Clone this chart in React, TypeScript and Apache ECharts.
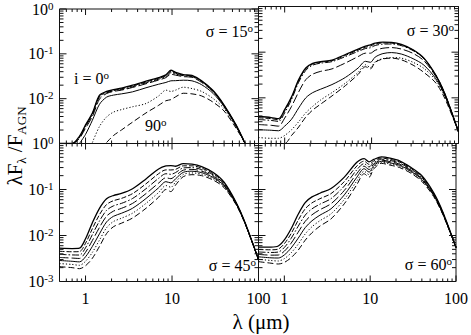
import React, { useEffect, useRef } from 'react';
import * as echarts from 'echarts';

// Wavelength grid (micron) shared by all curves
const WAVELENGTH_UM = [0.5, 0.7, 0.85, 1.0, 1.2, 1.45, 1.75, 2.1, 2.6, 3.5, 5, 7, 8.5, 9.7, 11, 13.5, 17, 22, 30, 40, 55, 70, 100];
const INCLINATION_DEG = [0, 15, 30, 45, 60, 75, 90];
const SIGMA_DEG = [15, 30, 45, 60];

// lambda F_lambda / F_AGN, one row per inclination (0..90 deg)
const SED_SIGMA_15 = [
  [0.001, 0.001, 0.00145, 0.0026, 0.0048, 0.012, 0.0145, 0.016, 0.0172, 0.020, 0.0245, 0.0295, 0.034, 0.043, 0.0385, 0.0345, 0.033, 0.025, 0.015, 0.0072, 0.0026, 0.001, null],
  [0.001, 0.001, 0.0014, 0.0025, 0.0046, 0.0115, 0.014, 0.0155, 0.0166, 0.0193, 0.0236, 0.0285, 0.0325, 0.0405, 0.037, 0.0335, 0.032, 0.0245, 0.0148, 0.0071, 0.0026, 0.001, null],
  [0.001, 0.001, 0.00135, 0.0024, 0.0044, 0.011, 0.0135, 0.015, 0.016, 0.0185, 0.0225, 0.0272, 0.031, 0.038, 0.0355, 0.0325, 0.031, 0.024, 0.0145, 0.007, 0.00255, 0.001, null],
  [0.001, 0.001, 0.0013, 0.0022, 0.004, 0.0098, 0.013, 0.0145, 0.0155, 0.0178, 0.0215, 0.026, 0.0295, 0.035, 0.0335, 0.031, 0.030, 0.023, 0.0142, 0.0069, 0.0025, 0.001, null],
  [null, null, 0.001, 0.0016, 0.0033, 0.0075, 0.0108, 0.012, 0.0128, 0.0142, 0.0175, 0.021, 0.023, 0.025, 0.0252, 0.0258, 0.025, 0.0205, 0.013, 0.0066, 0.00245, 0.001, null],
  [null, null, null, null, 0.00105, 0.0024, 0.0039, 0.005, 0.0057, 0.0066, 0.0078, 0.0115, 0.0155, 0.0145, 0.0155, 0.018, 0.0168, 0.0145, 0.010, 0.006, 0.00235, 0.001, null],
  [null, null, null, null, null, null, 0.00105, 0.0015, 0.002, 0.003, 0.0048, 0.0071, 0.009, 0.0095, 0.011, 0.0132, 0.0128, 0.0115, 0.0083, 0.0053, 0.0022, 0.001, null],
];
const SED_SIGMA_30 = [
  [0.0039, 0.0037, 0.0035, 0.0055, 0.0105, 0.025, 0.045, 0.057, 0.062, 0.067, 0.089, 0.117, 0.135, 0.145, 0.158, 0.166, 0.164, 0.148, 0.113, 0.074, 0.031, 0.012, 0.0018],
  [0.00365, 0.0035, 0.0033, 0.0052, 0.010, 0.024, 0.0435, 0.055, 0.060, 0.065, 0.085, 0.111, 0.128, 0.136, 0.15, 0.159, 0.158, 0.144, 0.111, 0.073, 0.031, 0.012, 0.0018],
  [0.00335, 0.0032, 0.00305, 0.0047, 0.0092, 0.022, 0.040, 0.052, 0.0575, 0.062, 0.080, 0.104, 0.12, 0.125, 0.14, 0.15, 0.151, 0.139, 0.108, 0.072, 0.0305, 0.012, 0.0018],
  [0.0026, 0.0025, 0.0024, 0.0036, 0.0065, 0.0135, 0.025, 0.033, 0.038, 0.043, 0.058, 0.080, 0.095, 0.095, 0.11, 0.122, 0.126, 0.117, 0.094, 0.065, 0.029, 0.0115, 0.0018],
  [0.002, 0.00195, 0.0019, 0.0024, 0.0034, 0.006, 0.010, 0.013, 0.0155, 0.0195, 0.028, 0.045, 0.063, 0.060, 0.078, 0.093, 0.098, 0.091, 0.072, 0.052, 0.026, 0.011, 0.0018],
  [0.00135, 0.0013, 0.0013, 0.0015, 0.002, 0.003, 0.0047, 0.0065, 0.009, 0.013, 0.021, 0.036, 0.053, 0.046, 0.062, 0.072, 0.076, 0.074, 0.060, 0.044, 0.024, 0.0105, 0.0018],
  [0.001, 0.001, 0.001, 0.001, 0.0015, 0.0023, 0.0038, 0.0054, 0.0073, 0.011, 0.0185, 0.0325, 0.048, 0.043, 0.060, 0.071, 0.074, 0.068, 0.052, 0.036, 0.021, 0.0095, 0.0018],
];
const SED_SIGMA_45 = [
  [0.0053, 0.0052, 0.0053, 0.0085, 0.019, 0.039, 0.063, 0.074, 0.082, 0.104, 0.17, 0.28, 0.325, 0.33, 0.32, 0.365, 0.357, 0.315, 0.235, 0.145, 0.053, 0.019, 0.003],
  [0.00454, 0.00443, 0.00447, 0.00678, 0.0141, 0.0284, 0.0471, 0.057, 0.064, 0.0814, 0.133, 0.221, 0.267, 0.266, 0.274, 0.327, 0.327, 0.292, 0.22, 0.139, 0.052, 0.0188, 0.003],
  [0.00389, 0.00378, 0.00376, 0.00541, 0.0105, 0.0207, 0.0352, 0.044, 0.0499, 0.0638, 0.104, 0.175, 0.22, 0.214, 0.234, 0.294, 0.299, 0.271, 0.207, 0.132, 0.051, 0.0186, 0.003],
  [0.00333, 0.00323, 0.00317, 0.00432, 0.0078, 0.015, 0.0263, 0.0338, 0.0389, 0.0499, 0.0814, 0.138, 0.18, 0.172, 0.2, 0.263, 0.274, 0.251, 0.194, 0.126, 0.05, 0.0184, 0.003],
  [0.00286, 0.00275, 0.00267, 0.00345, 0.0058, 0.0109, 0.0197, 0.0261, 0.0304, 0.0391, 0.0637, 0.109, 0.148, 0.139, 0.171, 0.236, 0.25, 0.233, 0.182, 0.121, 0.049, 0.0182, 0.003],
  [0.00245, 0.00235, 0.00225, 0.00275, 0.0043, 0.00796, 0.0147, 0.0201, 0.0237, 0.0306, 0.0499, 0.086, 0.122, 0.112, 0.146, 0.212, 0.229, 0.216, 0.171, 0.115, 0.048, 0.018, 0.003],
  [0.0021, 0.002, 0.0019, 0.0022, 0.0032, 0.0058, 0.011, 0.0155, 0.0185, 0.024, 0.039, 0.068, 0.1, 0.09, 0.125, 0.19, 0.21, 0.2, 0.16, 0.11, 0.047, 0.018, 0.003],
];
const SED_SIGMA_60 = [
  [0.0056, 0.0056, 0.0059, 0.008, 0.014, 0.029, 0.052, 0.069, 0.083, 0.105, 0.186, 0.39, 0.47, 0.40, 0.45, 0.51, 0.48, 0.42, 0.30, 0.20, 0.085, 0.033, 0.0055],
  [0.00496, 0.00489, 0.00508, 0.00664, 0.011, 0.0215, 0.038, 0.0512, 0.0631, 0.0815, 0.149, 0.324, 0.414, 0.352, 0.416, 0.484, 0.453, 0.397, 0.286, 0.191, 0.082, 0.032, 0.0055],
  [0.00439, 0.00428, 0.00437, 0.0055, 0.00866, 0.0159, 0.0277, 0.038, 0.048, 0.0633, 0.119, 0.269, 0.365, 0.309, 0.384, 0.458, 0.428, 0.375, 0.273, 0.182, 0.079, 0.0315, 0.0055],
  [0.00389, 0.00374, 0.00376, 0.00456, 0.0068, 0.0118, 0.0203, 0.0282, 0.0364, 0.0491, 0.0955, 0.223, 0.321, 0.272, 0.355, 0.435, 0.404, 0.355, 0.26, 0.173, 0.077, 0.031, 0.0055],
  [0.00344, 0.00327, 0.00324, 0.00378, 0.00535, 0.00873, 0.0148, 0.0209, 0.0277, 0.0381, 0.0764, 0.185, 0.283, 0.239, 0.328, 0.412, 0.381, 0.336, 0.248, 0.165, 0.075, 0.030, 0.0055],
  [0.00305, 0.00286, 0.00279, 0.00314, 0.0042, 0.00647, 0.0108, 0.0155, 0.021, 0.0296, 0.0612, 0.154, 0.249, 0.21, 0.303, 0.39, 0.36, 0.317, 0.236, 0.157, 0.072, 0.0295, 0.0055],
  [0.0027, 0.0025, 0.0024, 0.0026, 0.0033, 0.0048, 0.0079, 0.0115, 0.016, 0.023, 0.049, 0.128, 0.22, 0.185, 0.28, 0.37, 0.34, 0.30, 0.225, 0.15, 0.07, 0.029, 0.0055],
];

// Axis ticks and tick labels
const X_MAJOR_TICKS = [1, 10, 100];
const X_MINOR_TICKS = [0.6, 0.7, 0.8, 0.9, 2, 3, 4, 5, 6, 7, 8, 9, 20, 30, 40, 50, 60, 70, 80, 90];
const Y_MAJOR_TICKS = [0.001, 0.01, 0.1, 1];
const Y_MINOR_TICKS = [
  0.002, 0.003, 0.004, 0.005, 0.006, 0.007, 0.008, 0.009,
  0.02, 0.03, 0.04, 0.05, 0.06, 0.07, 0.08, 0.09,
  0.2, 0.3, 0.4, 0.5, 0.6, 0.7, 0.8, 0.9,
];
const X_TICK_LABELS = ['1', '10', '100']; // decades 0, 1, 2
const Y_TICK_EXP_UPPER = ['0', '-1', '-2', '0']; // for 1, 0.1, 0.01, 0.001 (as printed)
const Y_TICK_EXP_LOWER = ['', '-1', '-2', '-3'];

const FONT = 'Liberation Serif';
const DASHES: any[] = ['solid', [5, 2], [7, 2, 1.5, 2], [9, 3], 'solid', [1.2, 2], [6, 3]];

const PANELS = [
  { data: SED_SIGMA_15, grid: { left: 59.5, top: 6.5, width: 199, height: 137 }, showX: false, yExp: Y_TICK_EXP_UPPER, lx: 253, ly: 31 },
  { data: SED_SIGMA_30, grid: { left: 258.5, top: 6.5, width: 200, height: 137 }, showX: false, yExp: null, lx: 454, ly: 30 },
  { data: SED_SIGMA_45, grid: { left: 59.5, top: 143.5, width: 199, height: 138 }, showX: true, yExp: Y_TICK_EXP_LOWER, lx: 256, ly: 265 },
  { data: SED_SIGMA_60, grid: { left: 258.5, top: 143.5, width: 200, height: 138 }, showX: true, yExp: null, lx: 452, ly: 264 },
];

const decadeIndex = (v: number) => {
  const l = Math.log10(v);
  const r = Math.round(l);
  return Math.abs(l - r) < 1e-6 ? r : null;
};

const tickRender = (_params: any, api: any) => {
  const x = api.value(0);
  const y = api.value(1);
  const kind = api.value(2);
  const style = { stroke: '#111', lineWidth: 1 };
  if (kind < 2) {
    const len = kind === 1 ? 6 : 3;
    const b = api.coord([x, 0.001]);
    const t = api.coord([x, 1]);
    return {
      type: 'group',
      children: [
        { type: 'line', shape: { x1: b[0], y1: b[1], x2: b[0], y2: b[1] - len }, style },
        { type: 'line', shape: { x1: t[0], y1: t[1], x2: t[0], y2: t[1] + len }, style },
      ],
    };
  }
  const len = kind === 3 ? 7 : 4;
  const l = api.coord([0.5, y]);
  const r = api.coord([100, y]);
  return {
    type: 'group',
    children: [
      { type: 'line', shape: { x1: l[0], y1: l[1], x2: l[0] + len, y2: l[1] }, style },
      { type: 'line', shape: { x1: r[0], y1: r[1], x2: r[0] - len, y2: r[1] }, style },
    ],
  };
};

const TICK_DATA = [
  ...X_MAJOR_TICKS.map((v) => [v, 0.01, 1]),
  ...X_MINOR_TICKS.map((v) => [v, 0.01, 0]),
  ...Y_MAJOR_TICKS.map((v) => [1, v, 3]),
  ...Y_MINOR_TICKS.map((v) => [1, v, 2]),
];

export default function App() {
  const ref = useRef<HTMLDivElement>(null);
  useEffect(() => {
    if (!ref.current) return;
    const chart = echarts.init(ref.current, undefined, { renderer: 'svg' });
    const supRich = {
      b: { fontSize: 16, fontFamily: FONT, color: '#000', lineHeight: 18 },
      s: { fontSize: 11, fontFamily: FONT, color: '#000', verticalAlign: 'top', lineHeight: 11 },
    };
    const series: any[] = [];
    PANELS.forEach((p, pi) => {
      p.data.forEach((row, k) => {
        series.push({
          type: 'line',
          name: `sigma${SIGMA_DEG[pi]}_i${INCLINATION_DEG[k]}`,
          xAxisIndex: pi,
          yAxisIndex: pi,
          data: WAVELENGTH_UM.map((w, j) => [w, row[j] == null ? '-' : row[j]]),
          showSymbol: false,
          symbol: 'none',
          smooth: 0.3,
          clip: true,
          lineStyle: { color: '#000', width: k === 0 ? 1.3 : 1, type: DASHES[k] },
          silent: true,
        });
      });
      series.push({
        type: 'custom',
        xAxisIndex: pi,
        yAxisIndex: pi,
        renderItem: tickRender,
        data: TICK_DATA,
        encode: { x: 0, y: 1 },
        silent: true,
        z: 5,
      });
    });

    const supStyle = { fontSize: 11, fontFamily: FONT, verticalAlign: 'top', lineHeight: 11 };
    const option: any = {
      animation: false,
      backgroundColor: '#fff',
      textStyle: { fontFamily: FONT },
      grid: PANELS.map((p) => ({ ...p.grid, show: true, borderColor: '#111', borderWidth: 1, backgroundColor: 'transparent' })),
      xAxis: PANELS.map((p, pi) => ({
        type: 'log',
        logBase: 10,
        gridIndex: pi,
        min: 0.5,
        max: 100,
        axisLine: { show: false },
        axisTick: { show: false },
        splitLine: { show: false },
        minorTick: { show: false },
        axisLabel: {
          show: p.showX,
          margin: 9,
          fontSize: 16,
          fontFamily: FONT,
          color: '#000',
          formatter: (v: number) => {
            const d = decadeIndex(v);
            return d != null && d >= 0 && d < X_TICK_LABELS.length ? X_TICK_LABELS[d] : '';
          },
        },
      })),
      yAxis: PANELS.map((p, pi) => ({
        type: 'log',
        logBase: 10,
        gridIndex: pi,
        min: 0.001,
        max: 1,
        axisLine: { show: false },
        axisTick: { show: false },
        splitLine: { show: false },
        minorTick: { show: false },
        axisLabel: {
          show: !!p.yExp,
          margin: 6,
          fontFamily: FONT,
          rich: supRich,
          formatter: (v: number) => {
            const d = decadeIndex(v);
            if (d == null || !p.yExp) return '';
            const e = p.yExp[-d];
            return e ? `{b|10}{s|${e}}` : '';
          },
        },
      })),
      series,
      graphic: [
        ...PANELS.map((p, pi) => ({
          type: 'text',
          x: p.lx,
          y: p.ly,
          z: 100,
          style: {
            text: `σ = ${SIGMA_DEG[pi]}{s|o}`,
            fontSize: 16,
            fontFamily: FONT,
            fill: '#000',
            lineHeight: 18,
            align: 'right',
            verticalAlign: 'middle',
            rich: { s: supStyle },
          },
        })),
        {
          type: 'text',
          x: 74,
          y: 78,
          z: 100,
          style: {
            text: `i = ${INCLINATION_DEG[0]}{s|o}`,
            fontSize: 16,
            fontFamily: FONT,
            fill: '#000',
            lineHeight: 18,
            align: 'left',
            verticalAlign: 'middle',
            rich: { s: supStyle },
          },
        },
        {
          type: 'text',
          x: 145,
          y: 125,
          z: 100,
          style: {
            text: `${INCLINATION_DEG[6]}{s|o}`,
            fontSize: 16,
            fontFamily: FONT,
            fill: '#000',
            lineHeight: 18,
            align: 'left',
            verticalAlign: 'middle',
            rich: { s: supStyle },
          },
        },
        {
          type: 'text',
          x: 15,
          y: 146,
          rotation: Math.PI / 2,
          z: 100,
          style: {
            text: 'λF{sub|λ} /F{sub|AGN}',
            fontSize: 21,
            fontFamily: FONT,
            fill: '#000',
            lineHeight: 26,
            align: 'center',
            verticalAlign: 'middle',
            rich: { sub: { fontSize: 13, fontFamily: FONT, verticalAlign: 'bottom', lineHeight: 13 } },
          },
        },
        {
          type: 'text',
          x: 261,
          y: 322,
          z: 100,
          style: {
            text: 'λ (μm)',
            fontSize: 21,
            fontFamily: FONT,
            fill: '#000',
            align: 'center',
            verticalAlign: 'middle',
          },
        },
      ],
    };
    chart.setOption(option);
    return () => chart.dispose();
  }, []);
  return <div ref={ref} style={{ position: 'fixed', left: 0, top: 0, width: 471, height: 335 }} />;
}
